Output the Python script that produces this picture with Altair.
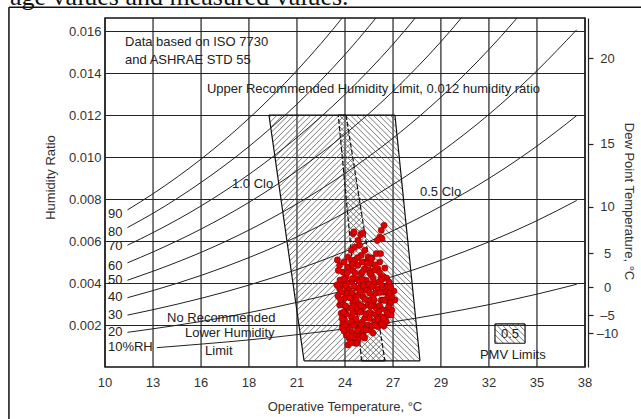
import altair as alt
import pandas as pd
import math

# ---------------- axis ticks ----------------
x_tick_values = [10.0, 12.78, 15.56, 18.33, 21.11, 23.89, 26.67, 29.44, 32.22, 35.0, 37.78]
x_tick_labels = ["10", "13", "16", "18", "21", "24", "27", "29", "32", "35", "38"]
y_tick_values = [0.002, 0.004, 0.006, 0.008, 0.010, 0.012, 0.014, 0.016]
dew_tick_w = [0.0016, 0.00247, 0.00379, 0.00541, 0.00763, 0.01064, 0.0147]
dew_tick_labels = ["\u201310", "\u20135", "0", "5", "10", "15", "20"]

# ---------------- RH curves (humidity ratio, g/kg) ----------------
rh_temps = [11.3, 12.78, 15.56, 18.33, 21.11, 23.89, 26.67, 29.44, 32.22, 35.0, 37.3]
rh90_w = [7.48, 8.25, 9.90, 11.84, 14.12, 16.79, 19.90]
rh80_w = [6.64, 7.32, 8.79, 10.50, 12.52, 14.88, 17.63]
rh70_w = [5.80, 6.40, 7.67, 9.17, 10.93, 12.98, 15.37, 18.14]
rh60_w = [4.96, 5.48, 6.57, 7.84, 9.34, 11.09, 13.13, 15.49, 18.23]
rh50_w = [4.13, 4.56, 5.46, 6.52, 7.77, 9.22, 10.90, 12.85, 15.12, 17.73]
rh40_w = [3.30, 3.64, 4.36, 5.21, 6.20, 7.35, 8.69, 10.24, 12.03, 14.11, 16.06]
rh30_w = [2.47, 2.73, 3.27, 3.90, 4.64, 5.50, 6.49, 7.65, 8.98, 10.52, 11.97]
rh20_w = [1.65, 1.82, 2.17, 2.59, 3.08, 3.65, 4.31, 5.08, 5.96, 6.97, 7.93]
rh10_temps = [13.0, 15.56, 18.33, 21.11, 23.89, 26.67, 29.44, 32.22, 35.0, 37.3]
rh10_w = [0.92, 1.09, 1.29, 1.54, 1.82, 2.15, 2.53, 2.97, 3.47, 3.94]

rh_labels = ["90", "80", "70", "60", "50", "40", "30", "20", "10%RH"]
rh_label_w = [7.29, 6.43, 5.76, 4.81, 4.14, 3.33, 2.48, 1.67, 0.95]
rh_label_t = 10.17

# ---------------- comfort zones (T degC, W g/kg) ----------------
winter_t = [19.49, 23.95, 26.20, 21.52]
winter_w = [12.0, 12.0, 0.29, 0.29]
summer_t = [23.50, 26.78, 28.23, 24.85]
summer_w = [12.0, 12.0, 0.29, 0.29]
pmv_box_t = [32.57, 34.31, 34.31, 32.57]
pmv_box_w = [2.05, 2.05, 1.13, 1.13]

# ---------------- measured points (T degC, W g/kg) ----------------
pts_t = [26.15, 24.36, 24.80, 25.99, 25.90, 26.03, 25.76, 24.64, 24.45, 24.74, 25.03, 24.25, 24.83,
         25.70, 25.95, 25.22, 24.06, 25.90, 24.25, 23.58, 25.41, 24.64, 24.06, 25.80, 25.03, 24.35,
         23.77, 24.83, 25.41, 25.99, 23.96, 24.54, 25.12, 24.25, 25.60, 23.67, 24.83,
         23.58, 24.06, 24.64, 25.22, 25.80, 26.28, 26.38, 24.35, 24.93, 25.51, 23.87, 25.99, 26.47,
         23.58, 24.64, 25.22, 24.06, 25.70, 26.28, 24.83, 23.67, 25.41, 24.25, 25.99, 25.03, 26.56,
         23.87, 25.60, 24.54, 26.28, 25.22, 24.06, 25.80, 24.74, 24.25, 25.34, 23.96, 24.54, 24.93,
         24.14, 24.74, 24.35, 24.64,
         23.60, 23.70, 23.77, 23.99, 24.18, 24.47, 24.06, 26.52, 26.60, 26.38, 26.30, 26.10, 26.78,
         26.72, 26.43, 23.48, 23.42, 26.14, 25.51, 25.03,
         24.47, 25.45, 25.10, 26.20, 25.28, 24.70, 23.96, 25.68, 26.09, 24.35, 24.93, 25.51, 25.97,
         24.50, 25.10, 25.68, 23.96, 24.25, 24.88, 25.93, 25.45, 24.99, 23.73, 26.28, 25.34, 24.18,
         25.05, 23.77, 24.54, 26.09, 24.64, 24.00, 25.28, 25.86, 24.47, 25.62, 24.88, 23.84, 26.28,
         26.60, 24.93, 24.41, 23.45, 23.50,
         24.62, 25.38, 24.31, 25.14, 25.63, 24.02, 24.91, 25.33, 25.88, 23.82, 24.33, 24.87, 25.52,
         26.04, 23.91, 24.42, 24.95, 25.47, 26.01, 26.52, 23.71, 24.28, 24.79, 25.31, 25.92, 26.46,
         23.63, 24.51, 25.04, 25.58, 26.19, 23.92, 24.32, 24.81, 25.39, 25.89, 26.41, 23.81, 24.34,
         24.77, 25.29, 25.84, 26.33, 23.72, 24.53, 25.31, 25.79, 26.12, 23.93, 24.41, 24.83, 25.62,
         26.02, 24.61, 25.12, 23.83, 24.29, 24.91, 24.21, 24.57]
pts_w = [6.75, 6.35, 6.30, 6.51, 6.19, 6.11, 6.03, 6.03, 5.71, 5.80, 5.56, 5.56, 5.32,
         5.40, 5.40, 5.24, 5.24, 5.00, 5.08, 4.84, 4.92, 4.84, 4.76, 4.68, 4.68, 4.60,
         4.52, 4.44, 4.37, 4.29, 4.29, 4.20, 4.13, 4.05, 3.97, 3.97, 3.89,
         3.71, 3.75, 3.75, 3.67, 3.71, 3.82, 3.43, 3.43, 3.35, 3.35, 3.27, 3.19, 3.03,
         2.95, 3.03, 2.95, 2.80, 2.80, 2.71, 2.63, 2.56, 2.56, 2.40, 2.40, 2.32, 2.48,
         2.24, 2.16, 2.08, 2.16, 2.00, 1.92, 1.92, 1.84, 1.68, 1.76, 1.52, 1.52, 1.60,
         1.37, 1.44, 1.20, 1.29,
         4.14, 3.05, 2.10, 1.62, 1.38, 1.14, 1.05, 3.05, 2.71, 3.33, 4.24, 4.30, 3.19,
         3.62, 4.05, 3.38, 3.90, 1.95, 1.62, 1.38,
         5.10, 5.19, 5.00, 4.71, 4.62, 4.10, 3.52, 3.52, 3.57, 3.05, 2.86, 2.95, 2.76,
         2.62, 2.52, 2.48, 2.52, 2.14, 2.14, 2.19, 1.95, 1.76, 1.86, 2.43, 3.19, 3.29,
         3.67, 2.95, 2.80, 3.19, 3.43, 4.00, 3.95, 4.05, 4.48, 4.62, 5.00, 5.00, 3.57,
         3.33, 6.38, 6.44, 5.10, 4.60,
         5.21, 5.17, 4.88, 4.93, 4.86, 4.49, 4.53, 4.47, 4.51, 4.19, 4.22, 4.18, 4.21,
         4.17, 3.86, 3.84, 3.87, 3.83, 3.88, 3.82, 3.56, 3.54, 3.57, 3.53, 3.55, 3.52,
         3.21, 3.18, 3.22, 3.19, 3.17, 2.91, 2.88, 2.92, 2.89, 2.93, 2.87, 2.61, 2.58,
         2.62, 2.59, 2.63, 2.57, 2.31, 2.29, 2.32, 2.28, 2.31, 2.01, 1.98, 2.02, 1.99,
         2.03, 1.74, 1.77, 1.73, 1.45, 1.46, 1.16, 1.13]

# ---------------- annotations (left edge T degC, centre W g/kg) ----------------
note_text = ["Data based on ISO 7730", "and ASHRAE STD 55",
             "Upper Recommended Humidity Limit, 0.012 humidity ratio",
             "1.0 Clo", "0.5 Clo", "No Recommended", "Lower Humidity", "Limit",
             "0.5", "PMV Limits"]
note_t = [11.16, 11.16, 15.90, 17.35, 28.23, 13.59, 14.63, 15.79, 32.92, 31.70]
note_w = [15.48, 14.62, 13.24, 8.71, 8.33, 2.33, 1.62, 0.76, 1.59, 0.57]

x_title = "Operative Temperature, \u00b0C"
x_title_t = 23.89
x_title_w = -1.90     # g/kg, below the plot
x_label_w = -0.76     # g/kg, below the plot

caption_text = ["age values and measured values."]
caption_t = [4.50]
caption_w = [17.24]

# page frame and right-axis position (data units outside the plot domain)
frame_left_t = 4.44
frame_top_w = 17.13
dew_axis_t = 37.78

# ---------------- scales ----------------
T0, T1 = 10.0, 37.78
W1 = 0.01662
PLOT_W, PLOT_H = 480, 349
X = alt.Scale(domain=[T0, T1], nice=False, zero=False)
Y = alt.Scale(domain=[0, W1], nice=False, zero=False)
FONT = "Liberation Sans"
INK = "#222222"
LABEL = "#333333"


def label_expr(values, labels, tol):
    expr = "''"
    for v, l in reversed(list(zip(values, labels))):
        expr = f"abs(datum.value - {v}) < {tol} ? '{l}' : {expr}"
    return expr


def hatch(ts, ws, direction, spacing, group):
    """Diagonal hatch segments clipped to a convex polygon (data units)."""
    kx = PLOT_W / (T1 - T0)
    ky = PLOT_H / W1
    P = [(kx * (t - T0), ky * w / 1000.0) for t, w in zip(ts, ws)]
    area = sum(P[i][0] * P[(i + 1) % len(P)][1] - P[(i + 1) % len(P)][0] * P[i][1] for i in range(len(P)))
    if area < 0:
        P = P[::-1]
    s2 = math.sqrt(0.5)
    d = (s2, s2) if direction == "/" else (s2, -s2)
    n = (-d[1], d[0])
    proj = [p[0] * n[0] + p[1] * n[1] for p in P]
    rows = []
    c = min(proj) + spacing / 2
    while c < max(proj):
        p0 = (c * n[0], c * n[1])
        tmin, tmax = -1e9, 1e9
        ok = True
        for i in range(len(P)):
            a, b = P[i], P[(i + 1) % len(P)]
            e = (b[0] - a[0], b[1] - a[1])
            f0 = e[0] * (p0[1] - a[1]) - e[1] * (p0[0] - a[0])
            f1 = e[0] * d[1] - e[1] * d[0]
            if abs(f1) < 1e-12:
                if f0 < 0:
                    ok = False
            elif f1 > 0:
                tmin = max(tmin, -f0 / f1)
            else:
                tmax = min(tmax, -f0 / f1)
        if ok and tmax > tmin:
            xa, ya = p0[0] + tmin * d[0], p0[1] + tmin * d[1]
            xb, yb = p0[0] + tmax * d[0], p0[1] + tmax * d[1]
            rows.append({"t": T0 + xa / kx, "w": ya / ky, "t2": T0 + xb / kx, "w2": yb / ky, "g": group})
        c += spacing
    return rows


# ---------------- data frames ----------------
rh_rows = []
for name, arr in [("90", rh90_w), ("80", rh80_w), ("70", rh70_w), ("60", rh60_w), ("50", rh50_w),
                  ("40", rh40_w), ("30", rh30_w), ("20", rh20_w)]:
    for t, w in zip(rh_temps, arr):
        rh_rows.append({"rh": name, "t": t, "w": w / 1000.0})
for t, w in zip(rh10_temps, rh10_w):
    rh_rows.append({"rh": "10", "t": t, "w": w / 1000.0})
rh_df = pd.DataFrame(rh_rows)

hatch_rows = hatch(winter_t, winter_w, "/", 4.0, "winter") + \
    hatch(summer_t, summer_w, "\\", 4.0, "summer") + \
    hatch(pmv_box_t, pmv_box_w, "\\", 4.0, "legend")
hatch_df = pd.DataFrame(hatch_rows)

edge_rows = []
for ts, ws, styles in [(winter_t, winter_w, ["solid", "dash", "solid", "solid"]),
                       (summer_t, summer_w, ["solid", "solid", "solid", "dash"]),
                       (pmv_box_t, pmv_box_w, ["solid", "solid", "solid", "solid"])]:
    for i in range(4):
        j = (i + 1) % 4
        edge_rows.append({"t": ts[i], "w": ws[i] / 1000.0, "t2": ts[j], "w2": ws[j] / 1000.0,
                          "style": styles[i]})
edge_df = pd.DataFrame(edge_rows)

pts_df = pd.DataFrame({"t": pts_t, "w": [w / 1000.0 for w in pts_w]})

note_df = pd.DataFrame({"text": note_text + rh_labels,
                        "t": note_t + [rh_label_t] * len(rh_labels),
                        "w": [w / 1000.0 for w in note_w + rh_label_w]})
caption_df = pd.DataFrame({"text": caption_text, "t": caption_t, "w": [w / 1000.0 for w in caption_w]})
frame_df = pd.DataFrame({"t": [frame_left_t, frame_left_t], "w": [frame_top_w / 1000.0, frame_top_w / 1000.0],
                         "t2": [45.0, frame_left_t], "w2": [frame_top_w / 1000.0, -0.004]})
dew_df = pd.DataFrame({"t": [dew_axis_t] * len(dew_tick_w), "w": dew_tick_w})
xgrid_df = pd.DataFrame({"t": x_tick_values, "w": [0.0] * len(x_tick_values),
                         "w2": [W1] * len(x_tick_values)})
xlab_df = pd.DataFrame({"t": x_tick_values + [x_title_t],
                        "w": [x_label_w / 1000.0] * len(x_tick_values) + [x_title_w / 1000.0],
                        "text": x_tick_labels + [x_title]})

# ---------------- layers ----------------
y_axis = alt.Axis(values=y_tick_values, format=".3f", grid=True, gridColor=INK, gridWidth=1.2,
                  ticks=False, domain=False, labelFont=FONT, labelFontSize=13, labelColor=LABEL,
                  labelPadding=4, labelOverlap=False, labelFlush=False, orient="left",
                  title="Humidity Ratio", titleFont=FONT, titleFontSize=13, titleFontWeight="normal",
                  titleColor=LABEL, titleAngle=-90, titleX=-55, titleY=159,
                  titleBaseline="middle", titleAlign="center")
right_axis = alt.Axis(
    orient="right", values=dew_tick_w,
    labelExpr=label_expr(dew_tick_w, dew_tick_labels, 0.00001),
    grid=False, ticks=True, tickSize=5, tickColor=INK, tickWidth=1.2,
    domain=True, domainColor=INK, domainWidth=1.2, offset=3,
    labelFont=FONT, labelFontSize=13, labelColor=LABEL, labelAlign="center",
    labelPadding=14, labelOverlap=False, labelFlush=False,
    title="Dew Point Temperature, \u00b0C", titleFont=FONT, titleFontSize=13,
    titleFontWeight="normal", titleColor=LABEL, titleAngle=90, titleX=40, titleY=183,
    titleBaseline="middle", titleAlign="center")

xgrid = alt.Chart(xgrid_df).mark_rule(color=INK, strokeWidth=1.2).encode(
    x=alt.X("t:Q", scale=X, axis=None), y=alt.Y("w:Q", scale=Y, axis=None), y2="w2:Q",
)

xlabels = alt.Chart(xlab_df).mark_text(align="center", baseline="middle", font=FONT, fontSize=13,
                                       color=LABEL).encode(
    x=alt.X("t:Q", scale=X, axis=None), y=alt.Y("w:Q", scale=Y, axis=None), text="text:N",
)

curves = alt.Chart(rh_df).mark_line(color=INK, strokeWidth=1.0, interpolate="monotone", clip=True).encode(
    x=alt.X("t:Q", scale=X, axis=None),
    y=alt.Y("w:Q", scale=Y, axis=y_axis),
    detail="rh:N",
)

hatch_layer = alt.Chart(hatch_df).mark_rule(color="#555555", strokeWidth=0.8).encode(
    x=alt.X("t:Q", scale=X, axis=None), y=alt.Y("w:Q", scale=Y, axis=None),
    x2="t2:Q", y2="w2:Q", detail="g:N",
)

edges = alt.Chart(edge_df).mark_rule(color="#111111", strokeWidth=1.2).encode(
    x=alt.X("t:Q", scale=X, axis=None), y=alt.Y("w:Q", scale=Y, axis=None),
    x2="t2:Q", y2="w2:Q",
    strokeDash=alt.StrokeDash("style:N", scale=alt.Scale(domain=["solid", "dash"], range=[[1, 0], [5, 2]]),
                              legend=None),
)

points = alt.Chart(pts_df).mark_circle(size=38, color="#e00000", stroke="#8a0000", strokeWidth=0.6,
                                       opacity=1).encode(
    x=alt.X("t:Q", scale=X, axis=None), y=alt.Y("w:Q", scale=Y, axis=None),
)

notes = alt.Chart(note_df).mark_text(align="left", baseline="middle", font=FONT, fontSize=13,
                                     color=INK).encode(
    x=alt.X("t:Q", scale=X, axis=None), y=alt.Y("w:Q", scale=Y, axis=None), text="text:N",
)

caption = alt.Chart(caption_df).mark_text(align="left", baseline="alphabetic", font="Liberation Serif",
                                          fontSize=26, color="#111111").encode(
    x=alt.X("t:Q", scale=X, axis=None), y=alt.Y("w:Q", scale=Y, axis=None), text="text:N",
)

frame = alt.Chart(frame_df).mark_rule(color="#111111", strokeWidth=1.5).encode(
    x=alt.X("t:Q", scale=X, axis=None), y=alt.Y("w:Q", scale=Y, axis=None),
    x2="t2:Q", y2="w2:Q",
)

right = alt.Chart(dew_df).mark_point(opacity=0).encode(
    x=alt.X("t:Q", scale=X, axis=None),
    y=alt.Y("w:Q", scale=Y, axis=right_axis),
)

chart = alt.layer(xgrid, hatch_layer, edges, curves, points, notes, xlabels, caption, frame,
                  right).resolve_axis(
    y="independent"
).properties(
    width=PLOT_W, height=PLOT_H,
    padding={"left": 105, "top": 18, "right": 56, "bottom": 52},
    autosize=alt.AutoSizeParams(type="none"),
    background="white",
).configure_view(stroke="#111111", strokeWidth=1.5)

chart.save("out.html", embed_options={"renderer": "svg", "actions": False})
